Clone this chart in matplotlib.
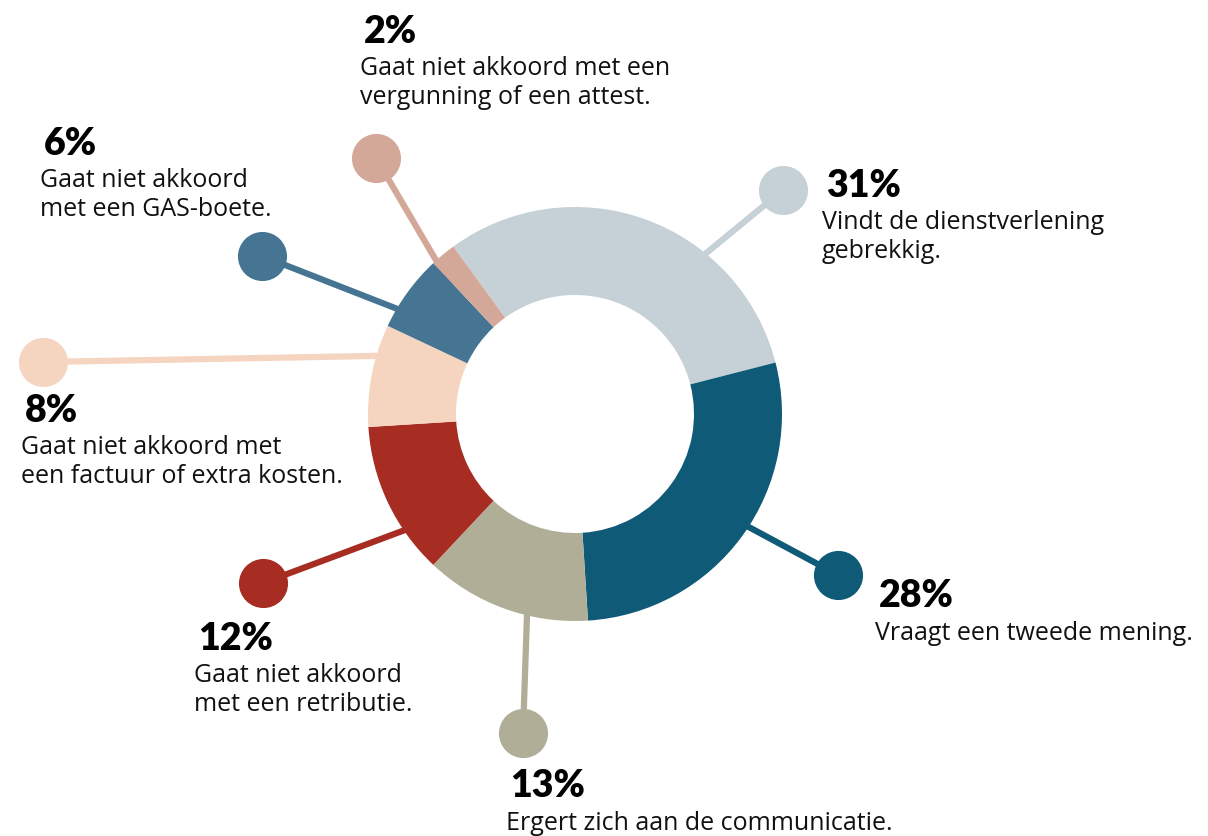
import matplotlib.pyplot as plt
import numpy as np

# data
percentages = [31, 28, 13, 12, 8, 6, 2]
labels = [
    "Vindt de dienstverlening\ngebrekkig.",
    "Vraagt een tweede mening.",
    "Ergert zich aan de communicatie.",
    "Gaat niet akkoord\nmet een retributie.",
    "Gaat niet akkoord met\neen factuur of extra kosten.",
    "Gaat niet akkoord\nmet een GAS-boete.",
    "Gaat niet akkoord met een\nvergunning of een attest.",
]
colors = ["#c6d0d7", "#0f5a77", "#b0ae97", "#a72d22", "#f5d4c0", "#457592", "#d4a898"]

# layout in pixel coordinates (y measured from top)
W, H = 1208, 836
center = (575, 414)
radius = 207
ring = 88
line_step = 28
dot_pos = [(783, 190), (838, 575), (523, 733), (263, 583), (43, 362), (262, 256), (376, 158)]
edge_pos = [(710, 250), (745, 525), (527, 615), (405, 530), (370, 356), (395, 308), (437, 262)]
text_pos = [(826, 197), (879, 607), (510, 797), (198, 650), (25, 422), (44, 155), (364, 43)]

fig = plt.figure(figsize=(W / 100, H / 100), dpi=100)
ax = fig.add_axes([0, 0, 1, 1])

cx, cy = center[0], H - center[1]
ax.pie(percentages, colors=colors, startangle=126, counterclock=False,
       center=(cx, cy), radius=radius, frame=True,
       wedgeprops=dict(width=ring, linewidth=0, zorder=3))
ax.set_xlim(0, W)
ax.set_ylim(0, H)
ax.set_aspect("equal")
ax.axis("off")

for i, pct in enumerate(percentages):
    ex, ey = edge_pos[i][0], H - edge_pos[i][1]
    dx, dy = dot_pos[i][0], H - dot_pos[i][1]
    # run the line a little past the edge so it hides under the wedge
    u = np.array([ex - dx, ey - dy])
    u = u / np.hypot(*u)
    sx, sy = ex + u[0] * 30, ey + u[1] * 30
    ax.plot([sx, dx], [sy, dy], color=colors[i], lw=4.5, zorder=2, solid_capstyle="butt")
    ax.scatter([dx], [dy], s=1250, color=colors[i], zorder=4, linewidths=0)

    tx, ty = text_pos[i][0], H - text_pos[i][1]
    ax.text(tx, ty, f"{pct}%", fontsize=27, fontweight="heavy", family="Lato",
            ha="left", va="baseline", color="black")
    # va="baseline" sits on the last line, so drop by the extra lines
    n_extra = labels[i].count("\n")
    ax.text(tx - 4, ty - 33 - n_extra * line_step, labels[i], fontsize=18,
            family="Open Sans", ha="left", va="baseline", color="#111111",
            linespacing=1.22)

fig.savefig("out.png", dpi=100)
